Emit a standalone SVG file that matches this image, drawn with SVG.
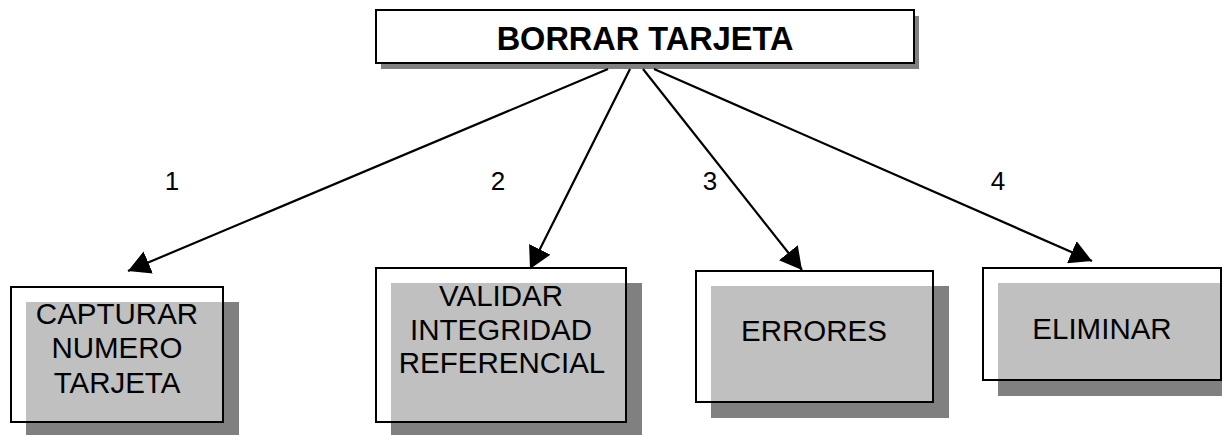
<svg xmlns="http://www.w3.org/2000/svg" width="1222" height="435" viewBox="0 0 1222 435">
<style>
.shadow{fill:#808080;stroke:none}
.box{fill:#ffffff;fill-opacity:0.5;stroke:#000000;stroke-width:2}
.topbox{fill:#ffffff;stroke:#000000;stroke-width:2}
.lbl{font-family:"Liberation Sans",Arial,sans-serif;font-size:29.5px;fill:#000000;text-anchor:middle}
.title{font-family:"Liberation Sans",Arial,sans-serif;font-size:32.5px;font-weight:bold;fill:#000000;text-anchor:middle}
.num{font-family:"Liberation Sans",Arial,sans-serif;font-size:26px;fill:#000000;text-anchor:middle}
.conn{stroke:#000000;stroke-width:2.2;fill:none;marker-end:url(#arrow)}
</style>
<defs>
<marker id="arrow" viewBox="0 0 22 24" refX="22" refY="12" markerWidth="22" markerHeight="24" markerUnits="userSpaceOnUse" orient="auto">
<path d="M0,0 L22,12 L0,24 z" fill="#000000"/>
</marker>
</defs>
<rect width="1222" height="435" fill="#ffffff"/>
<g id="node-borrar">
<rect class="shadow" x="381" y="16" width="538" height="53"/>
<rect class="topbox" x="376" y="10" width="538" height="53"/>
<text class="title" x="645" y="50">BORRAR TARJETA</text>
</g>
<g id="connectors">
<line class="conn" x1="608" y1="69" x2="128" y2="271"/>
<line class="conn" x1="630" y1="69" x2="530" y2="269"/>
<line class="conn" x1="643" y1="69" x2="802" y2="270"/>
<line class="conn" x1="654" y1="69" x2="1092" y2="261"/>
<text class="num" x="172" y="190">1</text>
<text class="num" x="498" y="190">2</text>
<text class="num" x="710" y="190">3</text>
<text class="num" x="998" y="190">4</text>
</g>
<g id="node-capturar">
<rect class="shadow" x="26" y="302" width="213" height="135"/>
<rect class="box" x="11" y="287" width="212" height="135"/>
<text class="lbl" x="117" y="324">CAPTURAR</text>
<text class="lbl" x="117" y="358">NUMERO</text>
<text class="lbl" x="117" y="393">TARJETA</text>
</g>
<g id="node-validar">
<rect class="shadow" x="391" y="283" width="251" height="154"/>
<rect class="box" x="376" y="268" width="250" height="154"/>
<text class="lbl" x="501" y="306">VALIDAR</text>
<text class="lbl" x="501" y="340">INTEGRIDAD</text>
<text class="lbl" x="502" y="373">REFERENCIAL</text>
</g>
<g id="node-errores">
<rect class="shadow" x="711" y="286" width="238" height="132"/>
<rect class="box" x="696" y="271" width="237" height="131"/>
<text class="lbl" x="814" y="341">ERRORES</text>
</g>
<g id="node-eliminar">
<rect class="shadow" x="998" y="283" width="238" height="113"/>
<rect class="box" x="983" y="268" width="238" height="112"/>
<text class="lbl" x="1102" y="339">ELIMINAR</text>
</g>
</svg>
